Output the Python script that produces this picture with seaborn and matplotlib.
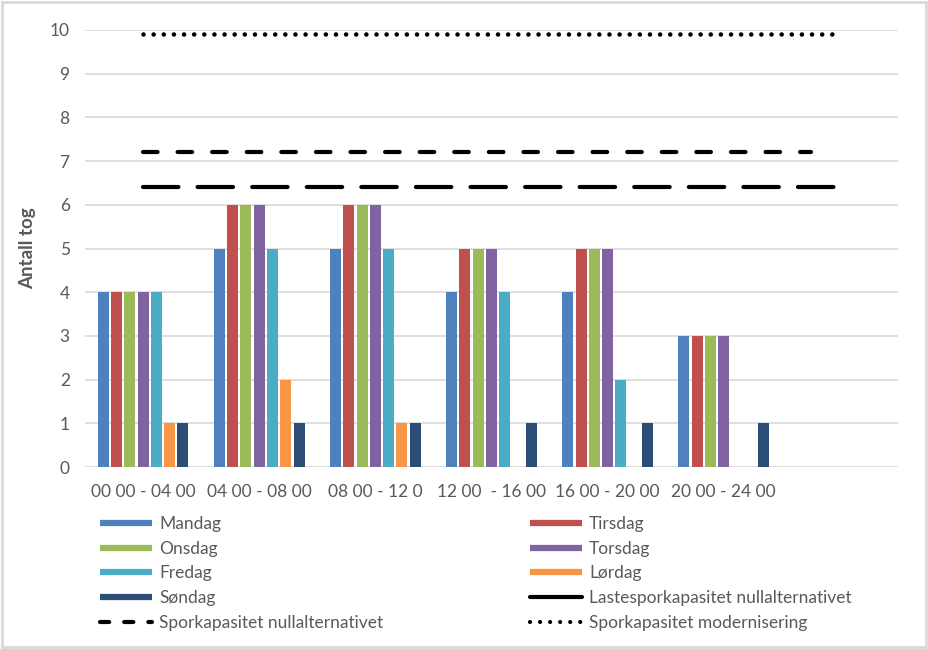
import numpy as np
import pandas as pd
import seaborn as sns
import matplotlib.pyplot as plt
from matplotlib.lines import Line2D
from matplotlib.patches import Rectangle

# data
perioder = ['00 00 - 04 00', '04 00 - 08 00', '08 00 - 12 0', '12 00  - 16 00',
            '16 00 - 20 00', '20 00 - 24 00', ' ']
dager = ['Mandag', 'Tirsdag', 'Onsdag', 'Torsdag', 'Fredag', 'Lørdag', 'Søndag']
mandag = [4, 5, 5, 4, 4, 3]
tirsdag = [4, 6, 6, 5, 5, 3]
onsdag = [4, 6, 6, 5, 5, 3]
torsdag = [4, 6, 6, 5, 5, 3]
fredag = [4, 5, 5, 4, 2, 0]
lordag = [1, 2, 1, 0, 0, 0]
sondag = [1, 1, 1, 1, 1, 1]
farger = ['#4F81BD', '#C0504D', '#9BBB59', '#8064A2', '#4BACC6', '#F79646', '#2C4D75']

laste_null = 6.4
spor_null = 7.2
spor_modern = 9.9

rows = []
for dag, vals in zip(dager, [mandag, tirsdag, onsdag, torsdag, fredag, lordag, sondag]):
    for p, v in zip(perioder, vals):
        rows.append({'periode': p, 'dag': dag, 'antall': v})
df = pd.DataFrame(rows)

sns.set_theme(style='white')
plt.rcParams['font.family'] = ['Lato', 'DejaVu Sans']
txt = '#595959'
fs = 12.5

fig = plt.figure(figsize=(9.29, 6.49), dpi=100)
ax = fig.add_axes([0.0915, 0.2804, 0.8751, 0.6734])

sns.barplot(data=df, x='periode', y='antall', hue='dag', order=perioder,
            hue_order=dager, palette=farger, width=0.8, gap=0.17,
            saturation=1, linewidth=0, ax=ax, legend=False)

x0, x1 = 0, len(perioder) - 1
stil_laste = (0, (8.5, 4.6))
stil_spor = (0, (3.5, 4.8))
stil_mod = (0, (0.01, 2.2))
ax.plot([x0, x1], [laste_null] * 2, color='black', lw=3, ls=stil_laste,
        dash_capstyle='round', zorder=4)
ax.plot([x0, x1 - 0.25], [spor_null] * 2, color='black', lw=3, ls=stil_spor,
        dash_capstyle='round', zorder=4)
ax.plot([x0, x1], [spor_modern] * 2, color='black', lw=3.3, ls=stil_mod,
        dash_capstyle='round', zorder=4)

ax.set_ylim(0, 10)
ax.set_xlim(-0.5, len(perioder) - 0.5)
ax.set_yticks(range(0, 11))
ax.yaxis.grid(True, color='#D9D9D9', lw=1.2)
ax.set_axisbelow(True)
for s in ax.spines.values():
    s.set_visible(False)
ax.tick_params(axis='both', length=0, labelsize=fs, labelcolor=txt)
ax.tick_params(axis='y', pad=11)
ax.tick_params(axis='x', pad=12)
ax.set_xlabel('')
ax.set_ylabel('Antall tog', fontsize=13.5, fontweight='bold', color=txt, labelpad=10)

# legend in two columns, built as two legends
def bar_h(c):
    return Line2D([], [], color=c, lw=4.5, solid_capstyle='butt')

laste_h = Line2D([], [], color='black', lw=3, solid_capstyle='round')
spor_h = Line2D([], [], color='black', lw=3, dash_capstyle='round', linestyle=(0, (2.2, 3.6)))
mod_h = Line2D([], [], color='black', lw=3, dash_capstyle='round', linestyle=(0, (0.01, 2.4)))

venstre = [bar_h(farger[0]), bar_h(farger[2]), bar_h(farger[4]), bar_h(farger[6]), spor_h]
venstre_t = ['Mandag', 'Onsdag', 'Fredag', 'Søndag', 'Sporkapasitet nullalternativet']
hoyre = [bar_h(farger[1]), bar_h(farger[3]), bar_h(farger[5]), laste_h, mod_h]
hoyre_t = ['Tirsdag', 'Torsdag', 'Lørdag', 'Lastesporkapasitet nullalternativet',
           'Sporkapasitet modernisering']

kw = dict(frameon=False, fontsize=fs, labelcolor=txt, handlelength=3.0,
          handletextpad=0.4, labelspacing=0.5, borderaxespad=0, borderpad=0)
leg1 = fig.legend(venstre, venstre_t, loc='upper left',
                  bbox_to_anchor=(100 / 929, 1 - 516 / 649), **kw)
leg2 = fig.legend(hoyre, hoyre_t, loc='upper left',
                  bbox_to_anchor=(530 / 929, 1 - 516 / 649), **kw)

fig.patches.append(Rectangle((0.002, 0.003), 0.995, 0.994, transform=fig.transFigure,
                             fill=False, edgecolor='#D9D9D9', lw=2))

fig.savefig('out.png', dpi=100)
